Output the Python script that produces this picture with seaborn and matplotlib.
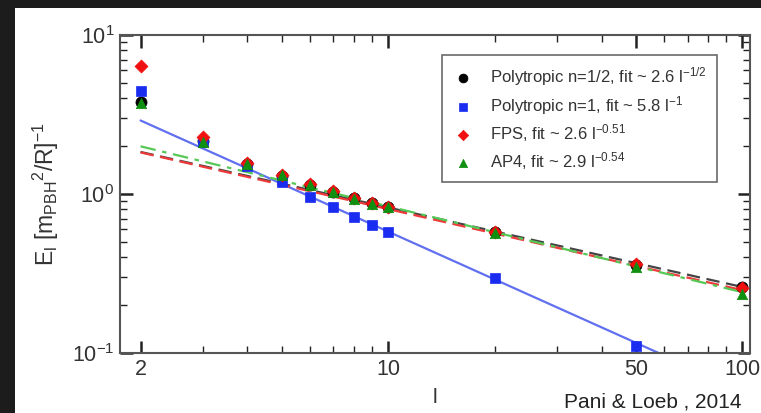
import numpy as np
import pandas as pd
import matplotlib
matplotlib.use("Agg")
import matplotlib.pyplot as plt
from matplotlib.patches import Rectangle
from matplotlib.ticker import FixedLocator, FixedFormatter, LogLocator, NullFormatter
import seaborn as sns

# ---- data ----
ell = [2, 3, 4, 5, 6, 7, 8, 9, 10, 20, 50, 100]
poly_half = [3.8, 2.15, 1.55, 1.30, 1.14, 1.03, 0.94, 0.88, 0.83, 0.58, 0.36, 0.26]
poly_one = [4.45, 2.12, 1.50, 1.19, 0.96, 0.83, 0.72, 0.64, 0.575, 0.296, 0.11, np.nan]
fps = [6.4, 2.28, 1.57, 1.32, 1.15, 1.04, 0.95, 0.88, 0.83, 0.58, 0.363, 0.256]
ap4 = [3.76, 2.12, 1.55, 1.31, 1.14, 1.03, 0.93, 0.87, 0.826, 0.569, 0.345, 0.234]

fit_amp = [2.6, 5.8, 2.6, 2.9]
fit_exp = [-0.5, -1.0, -0.51, -0.54]
series_names = ["Polytropic n=1/2, fit ~ 2.6 l$^{-1/2}$",
                "Polytropic n=1, fit ~ 5.8 l$^{-1}$",
                "FPS, fit ~ 2.6 l$^{-0.51}$",
                "AP4, fit ~ 2.9 l$^{-0.54}$"]
x_ticks = [2, 10, 50, 100]
x_ticklabels = ["2", "10", "50", "100"]

sns.set_style("ticks")
plt.rcParams["font.family"] = ["Liberation Sans", "DejaVu Sans"]
plt.rcParams["mathtext.fontset"] = "custom"
plt.rcParams["mathtext.rm"] = "Liberation Sans"
plt.rcParams["mathtext.it"] = "Liberation Sans"
plt.rcParams["axes.unicode_minus"] = False

fig = plt.figure(figsize=(7.61, 4.13), dpi=100)
fig.patch.set_facecolor("#1c1c1c")
bg = Rectangle((15 / 761, 0), 1, (413 - 8) / 413, transform=fig.transFigure,
               facecolor="white", edgecolor="none", zorder=-10)
fig.patches.append(bg)
ax = fig.add_axes([120 / 761, 1 - 353 / 413, 630 / 761, 318 / 413])
ax.set_facecolor("white")

data_series = [poly_half, poly_one, fps, ap4]
markers = ["o", "s", "D", "^"]
mcolors = ["black", "#1a2cf0", "#f01010", "#109010"]
msizes = [64, 50, 44, 56]
lcolors = ["#444444", "#6070f0", "#ee3a3a", "#55c855"]
lstyles = [(0, (6, 3)), "-", (0, (6, 3)), (0, (7, 3, 2, 3))]

lfit = np.array([2.0, 100.0])
for k in range(4):
    fy = fit_amp[k] * lfit ** fit_exp[k]
    sns.lineplot(x=lfit, y=fy, ax=ax, color=lcolors[k], linestyle=lstyles[k],
                 linewidth=1.6, zorder=2, legend=False)

for k in range(4):
    df = pd.DataFrame({"l": ell, "E": data_series[k]}).dropna()
    sns.scatterplot(data=df, x="l", y="E", ax=ax, marker=markers[k], color=mcolors[k],
                    s=msizes[k], edgecolor=mcolors[k], linewidth=0.5, zorder=3 + k,
                    label=series_names[k])

ax.set_xscale("log")
ax.set_yscale("log")
ax.set_xlim(1.75, 105)
ax.set_ylim(0.1, 10)

ax.xaxis.set_major_locator(FixedLocator(x_ticks))
ax.xaxis.set_major_formatter(FixedFormatter(x_ticklabels))
ax.xaxis.set_minor_locator(LogLocator(base=10, subs=np.arange(2, 10)))
ax.xaxis.set_minor_formatter(NullFormatter())
ax.yaxis.set_major_locator(LogLocator(base=10, numticks=5))
ax.yaxis.set_minor_locator(LogLocator(base=10, subs=np.arange(2, 10), numticks=10))
ax.yaxis.set_minor_formatter(NullFormatter())

ax.tick_params(which="both", direction="in", top=True, right=True, color="#222222")
ax.tick_params(which="major", length=9, width=1.8, labelsize=15.5, labelcolor="#333333", pad=4)
ax.tick_params(which="minor", length=5, width=1.0)
for s in ax.spines.values():
    s.set_color("#555555")
    s.set_linewidth(1.5)

ax.set_xlabel("l", fontsize=15, color="#333333", labelpad=6)
ax.set_ylabel("E$_{\\rm l}$ [m$_{\\rm PBH}$$^{2}$/R]$^{-1}$", fontsize=16.5, color="#333333", labelpad=8)

leg = ax.legend(loc="upper right", bbox_to_anchor=(717 / 761, 1 - 55 / 413), bbox_transform=fig.transFigure,
                fontsize=12.0, frameon=True, fancybox=False, edgecolor="#444444",
                handletextpad=1.0, labelspacing=0.35, borderpad=0.6, borderaxespad=0,
                handlelength=1.3, markerscale=0.8)
leg.get_frame().set_linewidth(1.2)
for t in leg.get_texts():
    t.set_color("#333333")

fig.text(742 / 761, 1 - 402 / 413, "Pani & Loeb , 2014", ha="right", va="center",
         fontsize=15, color="#222222")

fig.savefig("out.png", dpi=100, facecolor=fig.get_facecolor())
